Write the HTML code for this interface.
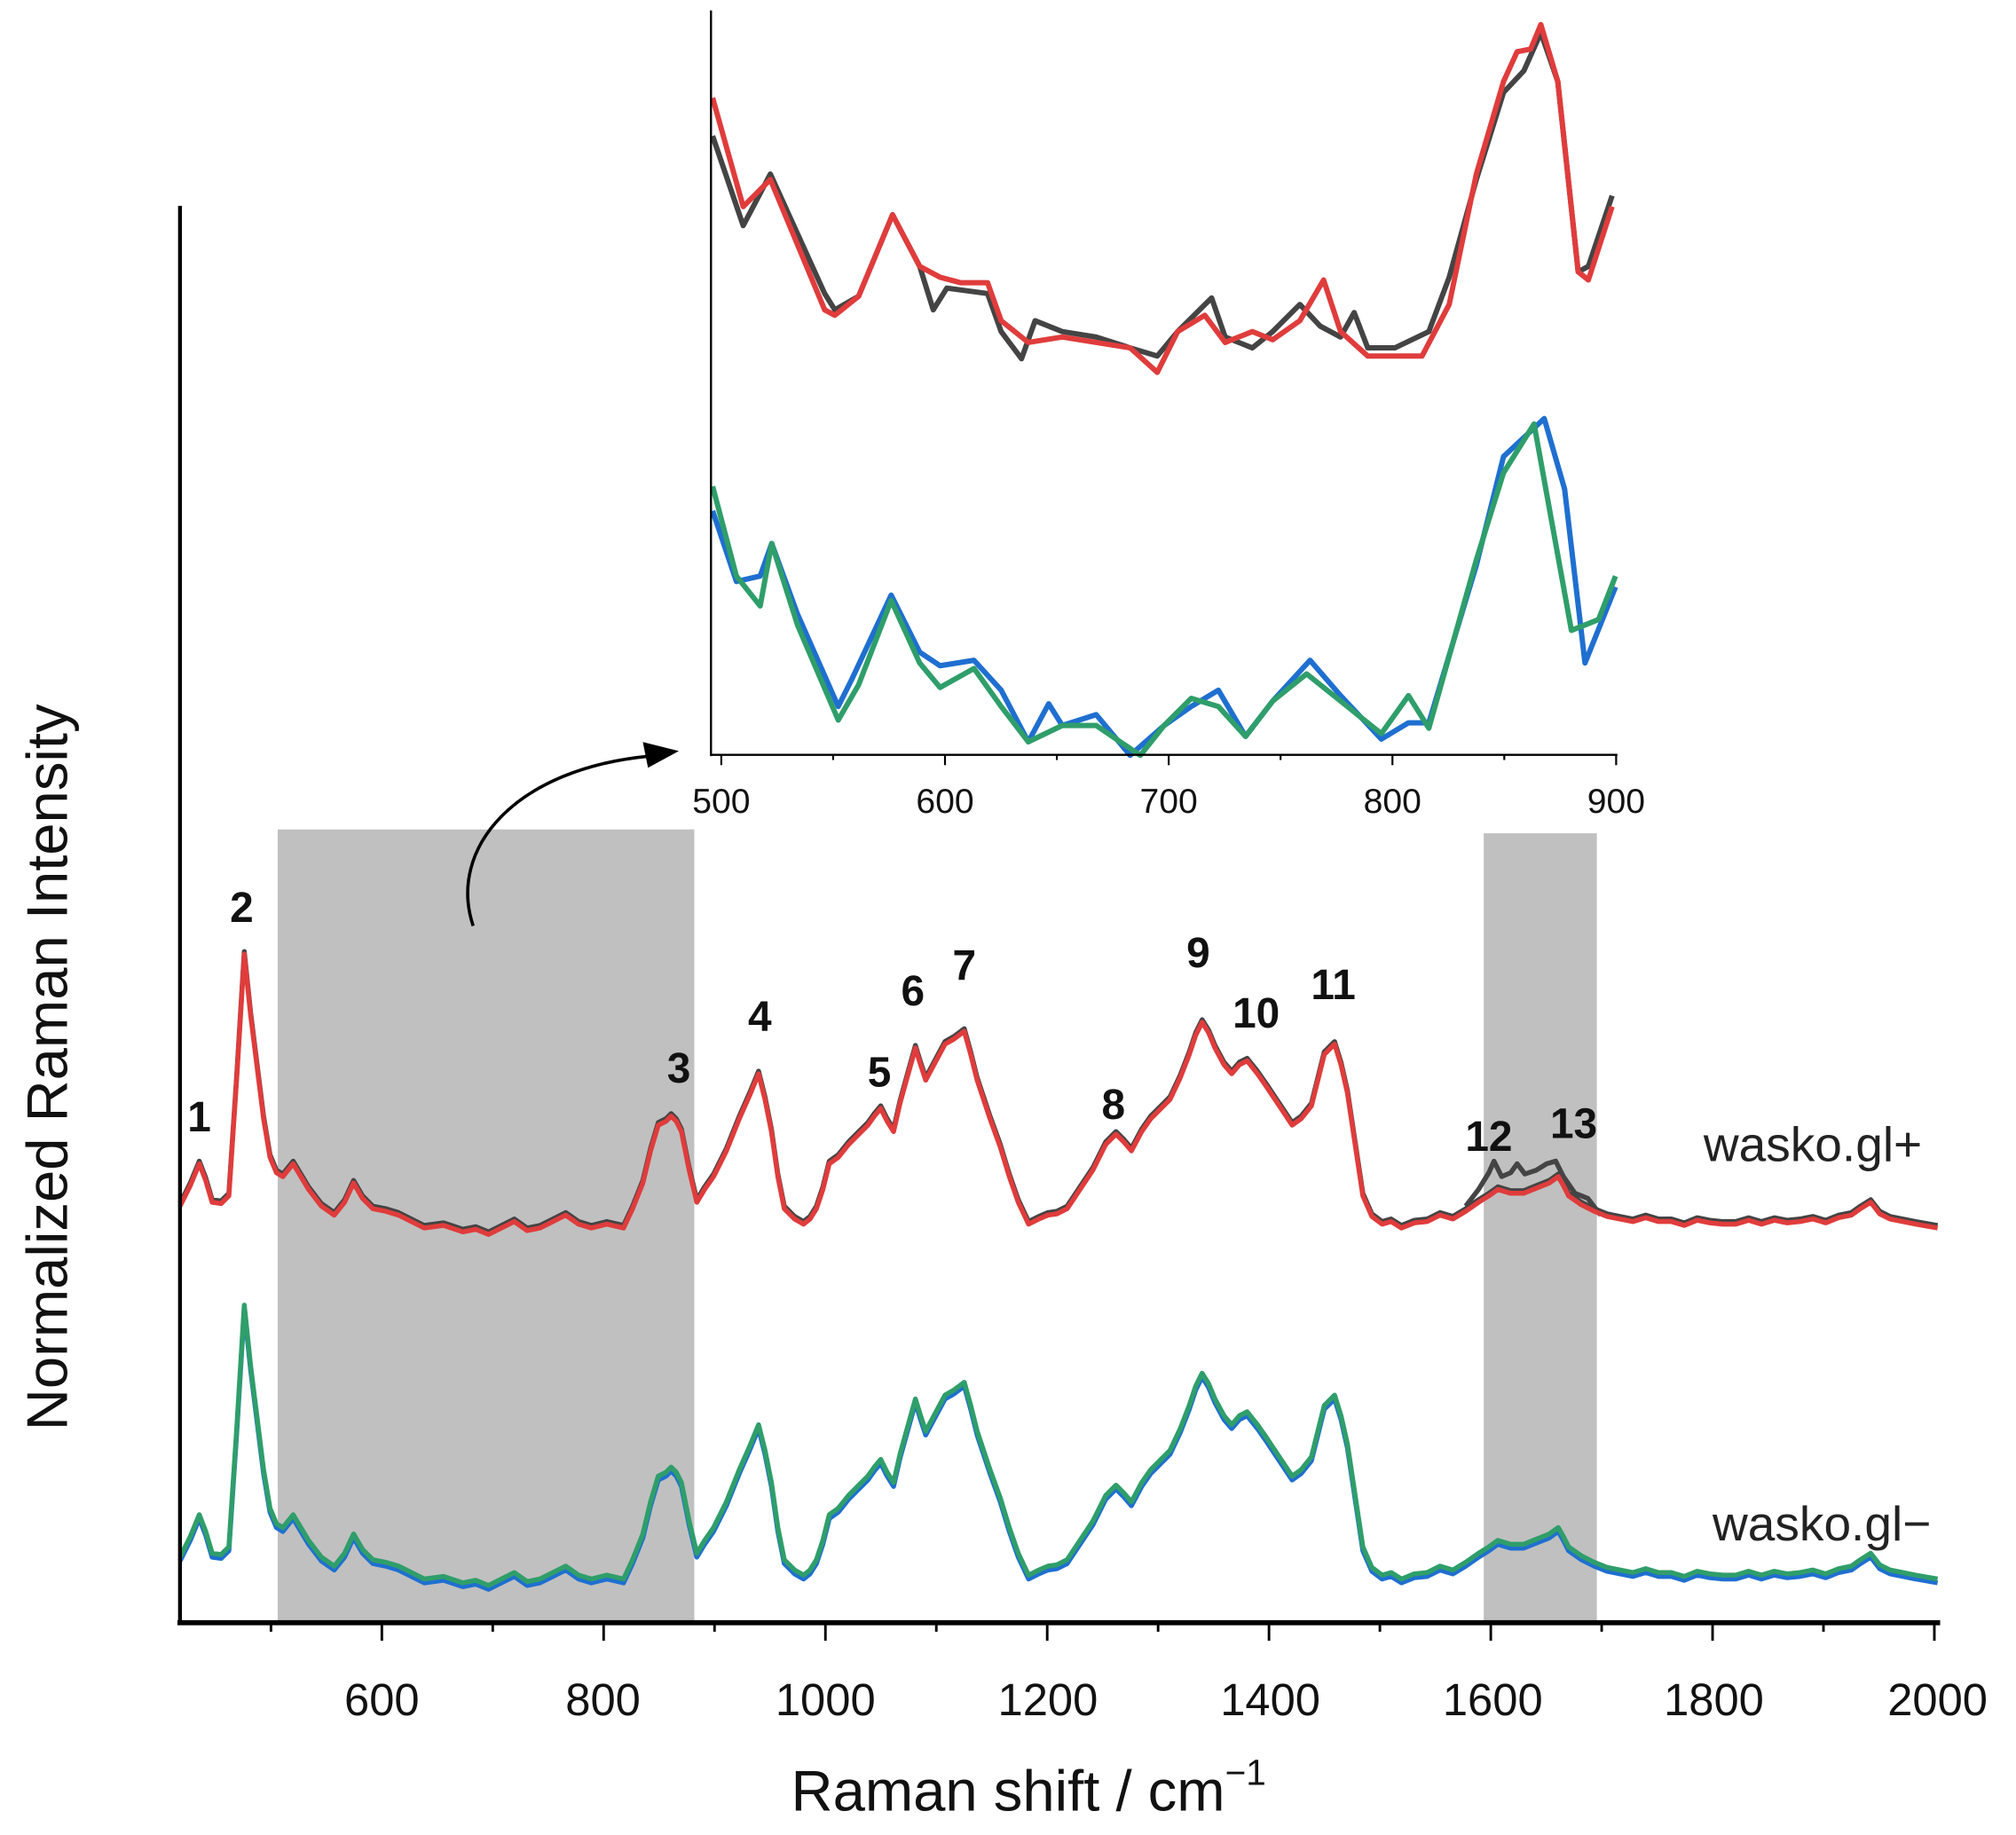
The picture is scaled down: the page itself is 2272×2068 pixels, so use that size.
<!DOCTYPE html>
<html><head><meta charset="utf-8">
<style>html,body{margin:0;padding:0;background:#fff}svg{display:block}</style>
</head><body>
<svg xmlns="http://www.w3.org/2000/svg" xmlns:xlink="http://www.w3.org/1999/xlink" width="2272" height="2068" viewBox="0 0 1568 1427" font-family="Liberation Sans, Arial, sans-serif">
<defs>
<polyline id="top" fill="none" points="140,938 148,922 155,905 160,918 165,935 172,936 178,930 184,840 190,742 195,790 200,830 205,870 210,900 215,912 220,915 228,905 234,915 240,925 250,938 260,945 268,935 275,920 282,932 290,940 300,942 310,945 320,950 330,955 345,953 360,958 370,956 380,960 390,955 400,950 410,957 420,955 430,950 440,945 450,952 460,955 472,952 485,955 492,940 500,920 506,895 512,875 518,872 522,868 526,872 530,880 536,910 542,935 548,925 555,915 565,895 575,870 583,852 590,835 595,855 600,880 605,915 610,940 618,948 625,952 630,948 635,940 640,925 645,905 652,900 660,890 668,882 675,875 680,868 685,862 690,872 695,880 700,858 705,840 712,815 716,828 720,840 728,825 735,812 742,808 750,802 755,820 760,840 765,855 770,870 778,892 785,915 792,935 800,952 808,948 815,945 822,944 830,940 840,925 850,910 860,890 868,882 874,888 880,895 888,880 895,870 903,862 910,855 918,838 925,820 930,805 935,795 940,803 945,815 952,828 958,835 964,828 970,825 978,835 985,845 995,860 1005,875 1012,870 1020,860 1025,840 1030,820 1038,812 1043,828 1048,850 1054,890 1060,930 1067,946 1075,952 1082,950 1090,955 1100,951 1110,950 1120,945 1130,948 1140,942 1150,935 1158,930 1165,925 1175,928 1185,928 1195,924 1205,920 1212,915 1216,922 1220,930 1230,937 1240,942 1250,946 1260,948 1270,950 1280,947 1290,950 1300,950 1310,953 1320,949 1330,951 1340,952 1350,952 1360,949 1370,952 1380,949 1390,951 1400,950 1410,948 1420,951 1430,947 1440,945 1447,940 1455,935 1462,944 1470,948 1480,950 1490,952 1507,955"/>
</defs>
<rect width="1568" height="1427" fill="#fff"/>
<rect x="216" y="645" width="324" height="617" fill="#c0c0c0"/>
<rect x="1154" y="648" width="88" height="614" fill="#c0c0c0"/>
<g fill="none" stroke-width="3.8" stroke-linejoin="round">
<use xlink:href="#top" href="#top" stroke="#444" transform="translate(0,-2)"/>
<polyline points="1140,938 1150,925 1158,912 1162,903 1168,915 1175,912 1180,905 1186,913 1195,910 1203,905 1210,903 1216,915 1225,928 1235,932 1245,945" stroke="#444"/>
<use xlink:href="#top" href="#top" stroke="#e03c3c"/>
<use xlink:href="#top" href="#top" stroke="#1f6fd0" transform="translate(0,276)"/>
<use xlink:href="#top" href="#top" stroke="#2f9e6a" transform="translate(0,273)"/>
</g>
<g transform="translate(483,0) scale(0.528,0.4226)" fill="none" stroke-linejoin="round">
<polyline vector-effect="non-scaling-stroke" stroke-width="6" stroke="#444" points="135,250 180,415 220,320 300,540 315,570 350,545 400,395 440,490 460,570 480,530 540,540 560,610 590,660 610,590 650,610 700,620 750,640 790,655 820,610 870,548 890,620 930,640 960,610 1000,560 1030,600 1060,620 1080,575 1100,640 1140,640 1190,610 1220,510 1260,330 1300,170 1330,130 1355,60 1380,150 1410,500 1425,490 1460,360"/>
<polyline vector-effect="non-scaling-stroke" stroke-width="6" stroke="#e03c3c" points="135,180 180,380 220,330 300,570 315,580 350,545 400,395 440,490 470,510 500,520 540,520 560,590 600,630 650,620 700,630 750,640 790,685 820,610 860,580 890,630 930,610 960,625 1000,590 1035,515 1060,610 1100,655 1140,655 1180,655 1220,560 1260,320 1300,150 1320,95 1340,90 1355,45 1380,150 1410,500 1425,515 1460,380"/>
<polyline vector-effect="non-scaling-stroke" stroke-width="6" stroke="#1f6fd0" points="135,940 170,1070 205,1060 222,1000 260,1130 320,1300 340,1250 398,1095 440,1200 470,1225 520,1215 560,1270 600,1365 630,1295 650,1335 700,1315 750,1390 800,1335 840,1300 880,1270 920,1355 960,1290 1015,1215 1060,1280 1120,1360 1160,1330 1190,1330 1260,1040 1300,840 1360,770 1390,900 1420,1220 1465,1080"/>
<polyline vector-effect="non-scaling-stroke" stroke-width="6" stroke="#2f9e6a" points="135,895 170,1060 205,1115 222,1000 260,1150 320,1325 350,1260 398,1105 440,1220 470,1265 520,1230 560,1300 600,1365 650,1335 700,1335 765,1390 800,1335 840,1285 880,1300 920,1355 960,1290 1010,1240 1060,1290 1120,1350 1160,1280 1190,1340 1260,1030 1300,870 1345,780 1400,1160 1440,1140 1465,1060"/>
</g>
<line x1="140" y1="160" x2="140" y2="1263" stroke="#000" stroke-width="3"/>
<line x1="138" y1="1262" x2="1509" y2="1262" stroke="#000" stroke-width="4"/>
<g stroke="#000" stroke-width="2">
<line x1="210.75" y1="1262" x2="210.75" y2="1269"/><line x1="297" y1="1262" x2="297" y2="1276"/>
<line x1="383.25" y1="1262" x2="383.25" y2="1269"/><line x1="469.5" y1="1262" x2="469.5" y2="1276"/>
<line x1="555.75" y1="1262" x2="555.75" y2="1269"/><line x1="642" y1="1262" x2="642" y2="1276"/>
<line x1="728.25" y1="1262" x2="728.25" y2="1269"/><line x1="814.5" y1="1262" x2="814.5" y2="1276"/>
<line x1="900.75" y1="1262" x2="900.75" y2="1269"/><line x1="987" y1="1262" x2="987" y2="1276"/>
<line x1="1073.25" y1="1262" x2="1073.25" y2="1269"/><line x1="1159.5" y1="1262" x2="1159.5" y2="1276"/>
<line x1="1245.75" y1="1262" x2="1245.75" y2="1269"/><line x1="1332" y1="1262" x2="1332" y2="1276"/>
<line x1="1418.25" y1="1262" x2="1418.25" y2="1269"/><line x1="1504.5" y1="1262" x2="1504.5" y2="1276"/>
</g>
<g font-size="35" text-anchor="middle" fill="#111">
<text x="297" y="1334">600</text><text x="469" y="1334">800</text><text x="642" y="1334">1000</text>
<text x="815" y="1334">1200</text><text x="988" y="1334">1400</text><text x="1161" y="1334">1600</text>
<text x="1333" y="1334">1800</text><text x="1507" y="1334">2000</text>
</g>
<text x="800" y="1408" font-size="45" text-anchor="middle" fill="#111">Raman shift / cm<tspan dy="-20" font-size="28">−1</tspan></text>
<text transform="translate(52,830) rotate(-90)" font-size="45" text-anchor="middle" fill="#111">Normalized Raman Intensity</text>
<line x1="553" y1="8" x2="553" y2="588" stroke="#000" stroke-width="1.6"/>
<line x1="553" y1="587" x2="1258" y2="587" stroke="#000" stroke-width="1.6"/>
<g stroke="#000" stroke-width="1.5">
<line x1="561" y1="587" x2="561" y2="595"/><line x1="648" y1="587" x2="648" y2="591"/>
<line x1="735" y1="587" x2="735" y2="595"/><line x1="822" y1="587" x2="822" y2="591"/>
<line x1="909" y1="587" x2="909" y2="595"/><line x1="996" y1="587" x2="996" y2="591"/>
<line x1="1083" y1="587" x2="1083" y2="595"/><line x1="1170" y1="587" x2="1170" y2="591"/>
<line x1="1257" y1="587" x2="1257" y2="595"/>
</g>
<g font-size="27" text-anchor="middle" fill="#111">
<text x="561" y="632">500</text><text x="735" y="632">600</text><text x="909" y="632">700</text><text x="1083" y="632">800</text><text x="1257" y="632">900</text>
</g>
<path d="M368,720 C348,660 400,598 505,588" fill="none" stroke="#000" stroke-width="2.5"/>
<polygon points="528,584 500,577 504,597" fill="#000"/>
<g font-size="33" font-weight="bold" text-anchor="middle" fill="#111">
<text x="155" y="880">1</text><text x="188" y="717">2</text><text x="528" y="842">3</text><text x="591" y="802">4</text>
<text x="684" y="845">5</text><text x="710" y="782">6</text><text x="750" y="762">7</text><text x="866" y="870">8</text>
<text x="932" y="752">9</text><text x="977" y="799">10</text><text x="1037" y="777">11</text><text x="1158" y="895">12</text><text x="1224" y="885">13</text>
</g>
<text x="1325" y="903" font-size="38" fill="#222">wasko.gl+</text>
<text x="1332" y="1198" font-size="38" fill="#222">wasko.gl−</text>
</svg>
</body></html>
